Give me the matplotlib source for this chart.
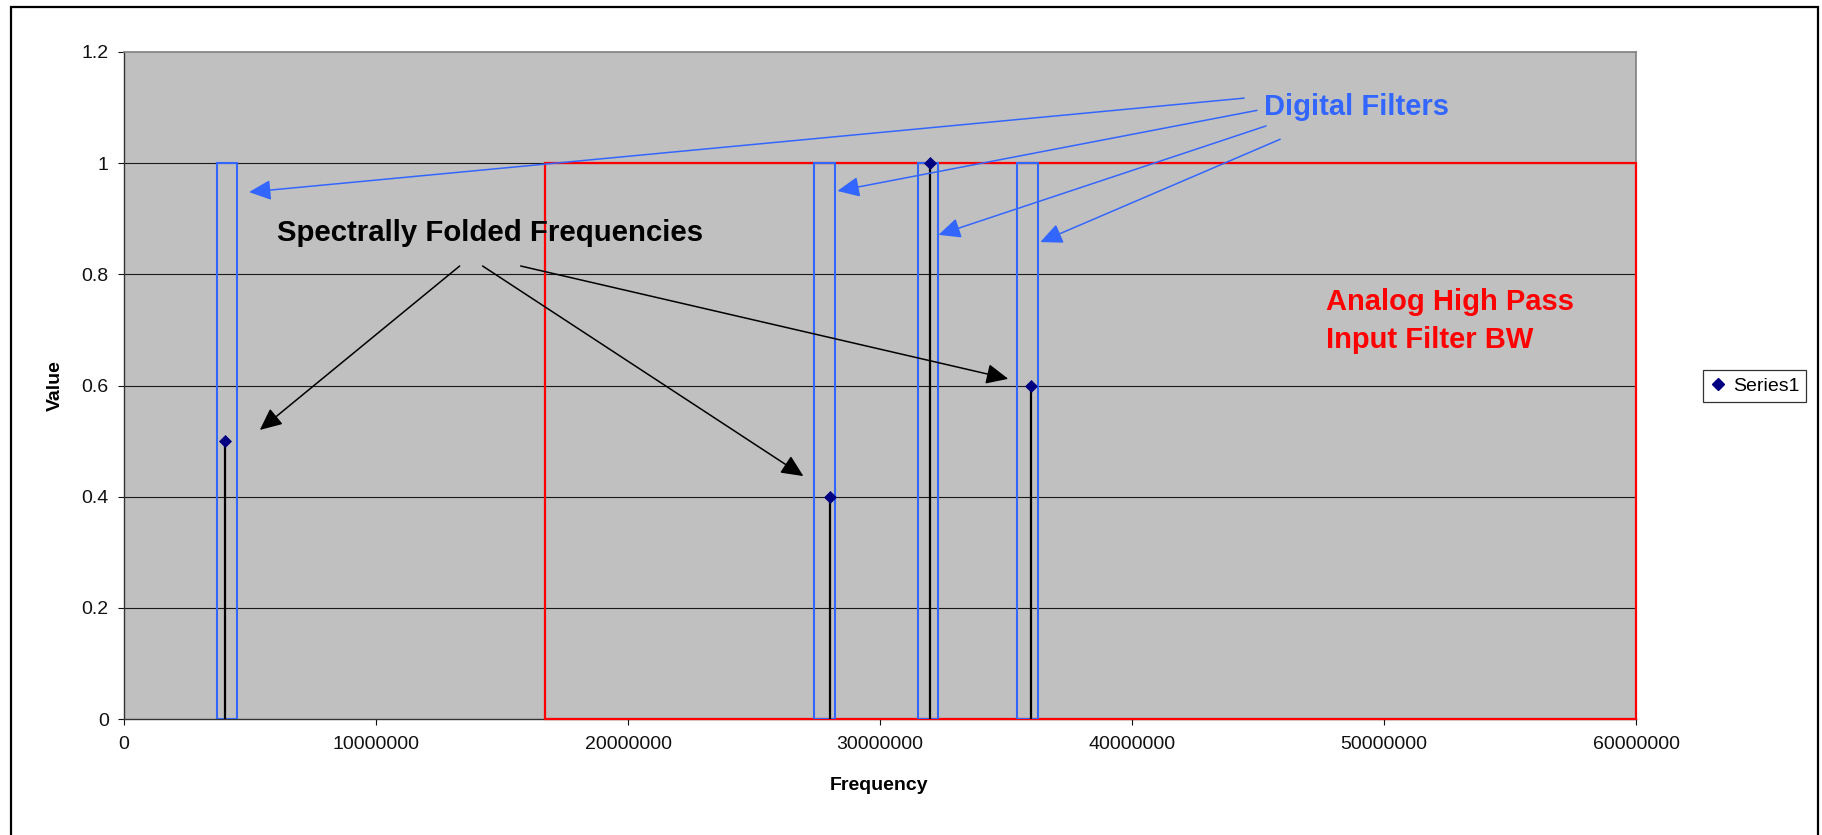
import matplotlib
matplotlib.use("Agg")
import matplotlib.pyplot as plt
from matplotlib.patches import Rectangle
from matplotlib.lines import Line2D

plt.rcParams['font.family'] = ['Liberation Sans', 'DejaVu Sans']

# Series data
freq = [4e6, 28e6, 32e6, 36e6]
value = [0.5, 0.4, 1.0, 0.6]

# Digital filter passbands (lower / upper edge, Hz)
filter_lo = [3.7e6, 27.4e6, 31.5e6, 35.45e6]
filter_hi = [4.5e6, 28.2e6, 32.3e6, 36.25e6]
filter_gain = 1.0

# Analog high-pass input band
analog_lo = 16.7e6
analog_hi = 60e6
analog_gain = 1.0

x_ticks = [0, 10000000, 20000000, 30000000, 40000000, 50000000, 60000000]
x_tick_labels = ['0', '10000000', '20000000', '30000000', '40000000', '50000000', '60000000']
y_ticks = [0, 0.2, 0.4, 0.6, 0.8, 1.0, 1.2]
y_tick_labels = ['0', '0.2', '0.4', '0.6', '0.8', '1', '1.2']

# Callout arrows (tail -> head, data units)
digital_tails = [(44.45e6, 1.117), (44.96e6, 1.095), (45.32e6, 1.067), (45.88e6, 1.043)]
digital_heads = [(4.96e6, 0.948), (28.31e6, 0.950), (32.32e6, 0.871), (36.36e6, 0.858)]
folded_tails = [(13.32e6, 0.815), (14.23e6, 0.815), (15.74e6, 0.815)]
folded_heads = [(5.39e6, 0.520), (26.96e6, 0.437), (35.09e6, 0.612)]

BLUE = '#3366FF'
RED = '#FF0000'
NAVY = '#000080'

W, H = 1822, 835
fig = plt.figure(figsize=(W / 100, H / 100), dpi=100)
fig.patch.set_facecolor('white')

# outer chart border (bottom edge runs off the canvas)
fig.add_artist(Rectangle((11 / W, -0.01), (1818 - 11) / W, 1.01 - 7 / H,
                         transform=fig.transFigure, fill=False, edgecolor='black',
                         linewidth=1.6))

ax = fig.add_axes([124 / W, 1 - 719 / H, (1636 - 124) / W, (719 - 52) / H])
ax.set_facecolor('#C0C0C0')
ax.set_xlim(0, 60e6)
ax.set_ylim(0, 1.2)

for yv in y_ticks[1:-1]:
    ax.axhline(yv, color='#1a1a1a', linewidth=0.8, zorder=1)

for side in ('top', 'right'):
    ax.spines[side].set_color('#808080')
    ax.spines[side].set_linewidth(1.2)
for side in ('left', 'bottom'):
    ax.spines[side].set_color('#333333')
    ax.spines[side].set_linewidth(1.0)

ax.set_xticks(x_ticks)
ax.set_xticklabels(x_tick_labels)
ax.set_yticks(y_ticks)
ax.set_yticklabels(y_tick_labels)
ax.tick_params(axis='x', direction='out', length=4, width=0.8, pad=8.5,
               labelsize=14, colors='#111111')
ax.tick_params(axis='y', direction='out', length=4, width=0.8, pad=7,
               labelsize=14, colors='#111111')

# analog filter band
ax.add_patch(Rectangle((analog_lo, 0), analog_hi - analog_lo, analog_gain,
                       fill=False, edgecolor=RED, linewidth=1.6, zorder=3,
                       clip_on=False))

# digital filter passbands
for lo, hi in zip(filter_lo, filter_hi):
    ax.add_patch(Rectangle((lo, 0), hi - lo, filter_gain, fill=False,
                           edgecolor=BLUE, linewidth=1.5, zorder=4))

# drop lines and markers
ax.vlines(freq, 0, value, colors='black', linewidth=1.6, zorder=5)
ax.plot(freq, value, linestyle='none', marker='D', markersize=6.6,
        markerfacecolor=NAVY, markeredgecolor=NAVY, markeredgewidth=0.5,
        zorder=6, clip_on=False)

# callouts
for tail, head in zip(digital_tails, digital_heads):
    ax.annotate('', xy=head, xytext=tail,
                arrowprops=dict(arrowstyle='-|>,head_length=1.35,head_width=0.62',
                                mutation_scale=10, color=BLUE, linewidth=1.1,
                                shrinkA=0, shrinkB=0), zorder=7)
for tail, head in zip(folded_tails, folded_heads):
    ax.annotate('', xy=head, xytext=tail,
                arrowprops=dict(arrowstyle='-|>,head_length=1.35,head_width=0.62',
                                mutation_scale=10, color='black', linewidth=1.1,
                                shrinkA=0, shrinkB=0), zorder=7)

ax.text(45.24e6, 1.101, 'Digital Filters', color=BLUE, fontsize=21,
        fontweight='bold', ha='left', va='center', zorder=8)
ax.text(6.07e6, 0.874, 'Spectrally Folded Frequencies', color='black', fontsize=21.2,
        fontweight='bold', ha='left', va='center', zorder=8)
ax.text(47.7e6, 0.75, 'Analog High Pass', color=RED, fontsize=21,
        fontweight='bold', ha='left', va='center', zorder=8)
ax.text(47.7e6, 0.682, 'Input Filter BW', color=RED, fontsize=21,
        fontweight='bold', ha='left', va='center', zorder=8)

# axis titles
fig.text(879 / W, 1 - 785 / H, 'Frequency', fontsize=14, fontweight='bold',
         ha='center', va='center')
fig.text(55 / W, 1 - 386 / H, 'Value', fontsize=14, fontweight='bold',
         ha='center', va='center', rotation=90)

# legend
handle = Line2D([], [], linestyle='none', marker='D', markersize=6.3,
                markerfacecolor=NAVY, markeredgecolor=NAVY)
leg = fig.legend([handle], ['Series1'], loc='center left',
                 bbox_to_anchor=(1703 / W, 1 - 386 / H), fontsize=14,
                 frameon=True, fancybox=False, shadow=False, handlelength=0.8,
                 handletextpad=0.4, borderpad=0.35, borderaxespad=0)
leg.get_frame().set_edgecolor('black')
leg.get_frame().set_linewidth(0.9)

fig.savefig('out.png', dpi=100)
